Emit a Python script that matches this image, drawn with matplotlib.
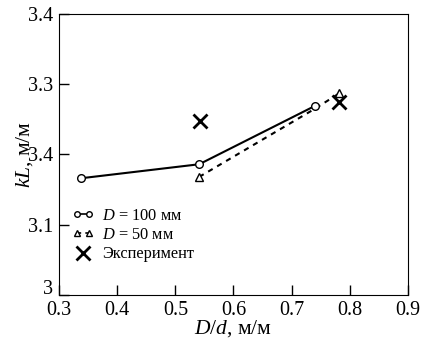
import numpy as np
import matplotlib.pyplot as plt
import matplotlib.transforms as mtransforms
from matplotlib.legend_handler import HandlerLine2D

plt.rcParams['font.family'] = ['Liberation Serif', 'DejaVu Serif']
plt.rcParams['mathtext.fontset'] = 'custom'
plt.rcParams['mathtext.it'] = 'Liberation Serif:italic'
plt.rcParams['mathtext.rm'] = 'Liberation Serif'

# D = 100 mm
x_100 = [0.337, 0.541, 0.740]
y_100 = [3.166, 3.186, 3.269]
# D = 50 mm (middle point hidden under the circle)
x_50 = [0.541, 0.740, 0.782]
y_50 = [3.168, 3.265, 3.287]
# experiment
x_exp = [0.542, 0.782]
y_exp = [3.248, 3.274]

xticks = [0.3, 0.4, 0.5, 0.6, 0.7, 0.8, 0.9]
yticks = [3.0, 3.1, 3.2, 3.3, 3.4]
ytick_labels = ["3", "3.1", "3.4", "3.3", "3.4"]  # as printed in the source

fig = plt.figure(figsize=(4.34, 3.47), dpi=100)
ax = fig.add_axes([0.136, 0.150, 0.804, 0.810])

l100, = ax.plot(x_100, y_100, color="black", lw=1.5, marker="o", ms=5.5,
                mfc="white", mec="black", mew=1.0, label=r"$D$ = 100 мм", zorder=3)
l50, = ax.plot(x_50, y_50, color="black", lw=1.5, ls=(0, (2.5, 2.5)), marker="^",
               ms=5.5, mfc="white", mec="black", mew=1.0, markevery=[0, 2],
               label=r"$D$ = 50 мм", zorder=2)
lexp, = ax.plot(x_exp, y_exp, ls="none", marker="x", ms=10, mew=2.0, color="black",
                label="Эксперимент", zorder=4)

ax.set_xlim(0.3, 0.9)
ax.set_ylim(3.0, 3.4)
ax.set_xticks(xticks)
ax.set_xticklabels([f"{t:g}" for t in xticks])
ax.set_yticks(yticks)
ax.set_yticklabels(ytick_labels)
ax.tick_params(direction="in", length=7, width=1, labelsize=14.5, pad=4)

# lift the bottom "3" a bit, like in the source
lab0 = ax.get_yticklabels()[0]
lab0.set_transform(lab0.get_transform() +
                   mtransforms.ScaledTranslation(0, 6 / 72, fig.dpi_scale_trans))

ax.set_xlabel(r"$D/d$, м/м", fontsize=15.5, labelpad=-1)
ax.set_ylabel(r"$kL$, м/м", fontsize=15.5, labelpad=-5)


def small_marker(legline, orig):
    legline.update_from(orig)
    legline.set_markersize(4)
    legline.set_linewidth(1.2)


leg = ax.legend(loc="lower left", bbox_to_anchor=(0.005, 0.075), numpoints=2,
                frameon=False, fontsize=11.8, handlelength=1.3, handletextpad=0.5,
                labelspacing=0.2, borderaxespad=0.3,
                handler_map={lexp: HandlerLine2D(numpoints=1),
                             l100: HandlerLine2D(update_func=small_marker),
                             l50: HandlerLine2D(update_func=small_marker)})

fig.savefig("out.png", dpi=100)
